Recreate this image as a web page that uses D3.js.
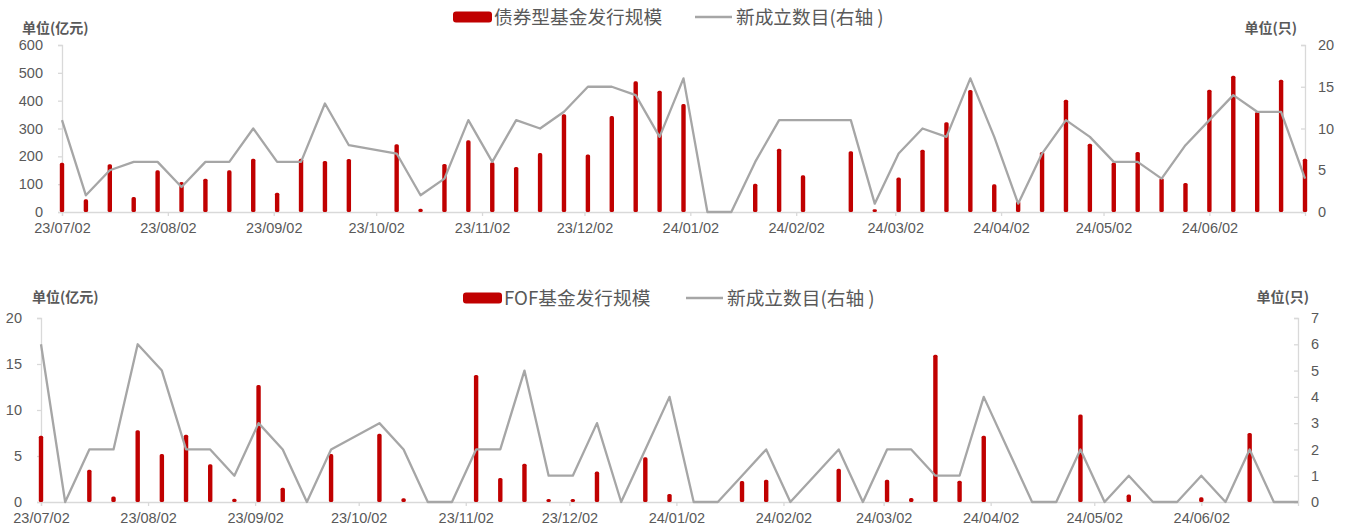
<!DOCTYPE html>
<html>
<head>
<meta charset="utf-8">
<script src="https://cdn.jsdelivr.net/npm/d3@7"></script>
<style>
  html, body { margin: 0; padding: 0; background: #fff; }
  svg { display: block; font-family: "Liberation Sans", Arial, "Noto Sans CJK SC", sans-serif; }
</style>
</head>
<body>
<svg id="chart" width="1351" height="532"></svg>
<script>
// Weekly dates (the National Day week 2023-10-01 and the Spring Festival week 2024-02-11 are absent)
const weeks = [
  "2023-07-02","2023-07-09","2023-07-16","2023-07-23","2023-07-30","2023-08-06","2023-08-13","2023-08-20","2023-08-27",
  "2023-09-03","2023-09-10","2023-09-17","2023-09-24","2023-10-08","2023-10-15","2023-10-22","2023-10-29",
  "2023-11-05","2023-11-12","2023-11-19","2023-11-26","2023-12-03","2023-12-10","2023-12-17","2023-12-24","2023-12-31",
  "2024-01-07","2024-01-14","2024-01-21","2024-01-28","2024-02-04","2024-02-18","2024-02-25",
  "2024-03-03","2024-03-10","2024-03-17","2024-03-24","2024-03-31","2024-04-07","2024-04-14","2024-04-21","2024-04-28",
  "2024-05-05","2024-05-12","2024-05-19","2024-05-26","2024-06-02","2024-06-09","2024-06-16","2024-06-23","2024-06-30"
];

// 债券型基金发行规模 (亿元)
const bondScale = [
  173, 42, 168, 50, 146, 104, 116, 146, 188,
  66, 188, 180, 187, 240, 8, 169, 254,
  175, 158, 208, 348, 203, 341, 466, 432, 384,
  0, 0, 98, 224, 128, 215, 6,
  120, 220, 319, 435, 96, 35, 212, 400, 242,
  174, 212, 118, 101, 436, 486, 356, 472, 188
];
// 债券型基金新成立数目 (只)
const bondCount = [
  11, 2, 5, 6, 6, 3, 6, 6, 10,
  6, 6, 13, 8, 7, 2, 4, 11,
  6, 11, 10, 12, 15, 15, 14, 9, 16,
  0, 0, 6, 11, 11, 11, 1,
  7, 10, 9, 16, 9, 1, 7, 11, 9,
  6, 6, 4, 8, 11, 14, 12, 12, 4
];

// FOF基金发行规模 (亿元)
const fofScale = [
  7.1, 0, 3.4, 0.5, 7.7, 5.1, 7.2, 4.0, 0.25,
  12.6, 1.45, 0, 5.1, 7.3, 0.3, 0, 0,
  13.7, 2.5, 4.06, 0.22, 0.22, 3.2, 0, 4.75, 0.76,
  0, 0, 2.17, 2.3, 0, 3.5, 0,
  2.3, 0.33, 15.9, 2.2, 7.1, 0, 0, 0, 9.4,
  0, 0.7, 0, 0, 0.4, 0, 7.4, 0, 0
];
// FOF基金新成立数目 (只)
const fofCount = [
  6, 0, 2, 2, 6, 5, 2, 2, 1,
  3, 2, 0, 2, 3, 2, 0, 0,
  2, 2, 5, 1, 1, 3, 0, 2, 4,
  0, 0, 1, 2, 0, 2, 0,
  2, 2, 1, 1, 4, 2, 0, 0, 2,
  0, 1, 0, 0, 1, 0, 2, 0, 0
];

const monthTicks = ["2023-07-02","2023-08-02","2023-09-02","2023-10-02","2023-11-02","2023-12-02",
  "2024-01-02","2024-02-02","2024-03-02","2024-04-02","2024-05-02","2024-06-02"];

const leftTicksTop = [0, 100, 200, 300, 400, 500, 600];
const rightTicksTop = [0, 5, 10, 15, 20];
const leftTicksBottom = [0, 5, 10, 15, 20];
const rightTicksBottom = [0, 1, 2, 3, 4, 5, 6, 7];

const parse = d3.utcParse("%Y-%m-%d");
const fmt = d3.utcFormat("%y/%m/%d");
const RED = "#C00000", GRAY = "#A6A6A6", TXT = "#595959", AX = "#D9D9D9";
const svg = d3.select("#chart");

function panel(cfg) {
  const dates = weeks.map(parse);
  const x = d3.scaleUtc().domain([parse("2023-07-02"), parse("2024-06-30")]).range([cfg.x0, cfg.x1]);
  const yL = d3.scaleLinear().domain([0, cfg.leftMax]).range([cfg.yBottom, cfg.yTop]);
  const yR = d3.scaleLinear().domain([0, cfg.rightMax]).range([cfg.yBottom, cfg.yTop]);
  const g = svg.append("g");

  const la = g.append("g").attr("transform", `translate(${cfg.x0},0)`)
    .call(d3.axisLeft(yL).tickValues(cfg.leftTicks).tickFormat(d3.format("d")).tickSize(4).tickPadding(15));
  const ra = g.append("g").attr("transform", `translate(${cfg.x1},0)`)
    .call(d3.axisRight(yR).tickValues(cfg.rightTicks).tickFormat(d3.format("d")).tickSize(-4).tickPadding(13));
  const xa = g.append("g").attr("transform", `translate(0,${cfg.yBottom})`)
    .call(d3.axisBottom(x).tickValues(monthTicks.map(parse)).tickFormat(fmt).tickSize(4).tickPadding(7));

  [la, ra, xa].forEach(a => {
    a.selectAll(".domain").attr("stroke", AX).attr("stroke-width", 1.3);
    a.selectAll(".tick line").attr("stroke", AX).attr("stroke-width", 1.3);
    a.selectAll(".tick text").attr("fill", TXT).attr("font-size", 14.5)
      .attr("font-family", "'Liberation Sans', Arial, sans-serif");
  });

  // bars
  const bw = 4.4;
  g.append("g").selectAll("rect")
    .data(cfg.bars.map((v, i) => ({ v, d: dates[i] })).filter(o => o.v > 0))
    .join("rect")
    .attr("x", o => x(o.d) - bw / 2)
    .attr("width", bw)
    .attr("y", o => yL(o.v) - 1)
    .attr("height", o => yL(0) - yL(o.v) + 1)
    .attr("rx", 1.6)
    .attr("fill", RED);

  // line
  const line = d3.line().x((v, i) => x(dates[i])).y(v => yR(v));
  g.append("path").datum(cfg.line).attr("d", line)
    .attr("fill", "none").attr("stroke", GRAY).attr("stroke-width", 2.3)
    .attr("stroke-linejoin", "round");

  // unit labels
  g.append("text").attr("x", cfg.unitLx).attr("y", cfg.unitY).text("单位(亿元)")
    .attr("font-size", 14).attr("font-weight", "bold").attr("fill", TXT)
    .attr("font-family", "'Noto Sans CJK SC', sans-serif");
  g.append("text").attr("x", cfg.unitRx).attr("y", cfg.unitY).text("单位(只)")
    .attr("text-anchor", "end")
    .attr("font-size", 14).attr("font-weight", "bold").attr("fill", TXT)
    .attr("font-family", "'Noto Sans CJK SC', sans-serif");

  // legend
  const lg = g.append("g");
  lg.append("rect").attr("x", cfg.legRectX).attr("y", cfg.legY - 5.5).attr("width", 39).attr("height", 11)
    .attr("rx", 3).attr("fill", RED);
  lg.append("text").attr("x", cfg.legRectX + 41).attr("y", cfg.legY).attr("dy", "0.36em")
    .text(cfg.barName).attr("font-size", 18.7).attr("fill", TXT)
    .attr("font-family", "'Noto Sans CJK SC', sans-serif");
  lg.append("line").attr("x1", cfg.legLineX).attr("x2", cfg.legLineX + 37)
    .attr("y1", cfg.legY).attr("y2", cfg.legY).attr("stroke", GRAY).attr("stroke-width", 2.3);
  lg.append("text").attr("x", cfg.legLineX + 41).attr("y", cfg.legY).attr("dy", "0.36em")
    .text("新成立数目(右轴 )").attr("font-size", 18.7).attr("fill", TXT)
    .attr("font-family", "'Noto Sans CJK SC', sans-serif");
}

panel({
  x0: 62, x1: 1305, yTop: 45, yBottom: 212,
  leftMax: 600, rightMax: 20, leftTicks: leftTicksTop, rightTicks: rightTicksTop,
  bars: bondScale, line: bondCount,
  unitLx: 22, unitRx: 1297, unitY: 33,
  legRectX: 453, legLineX: 695, legY: 17, barName: "债券型基金发行规模"
});

panel({
  x0: 41, x1: 1298, yTop: 318, yBottom: 502,
  leftMax: 20, rightMax: 7, leftTicks: leftTicksBottom, rightTicks: rightTicksBottom,
  bars: fofScale, line: fofCount,
  unitLx: 32, unitRx: 1309, unitY: 302,
  legRectX: 463, legLineX: 686, legY: 298, barName: "FOF基金发行规模"
});
</script>
</body>
</html>
